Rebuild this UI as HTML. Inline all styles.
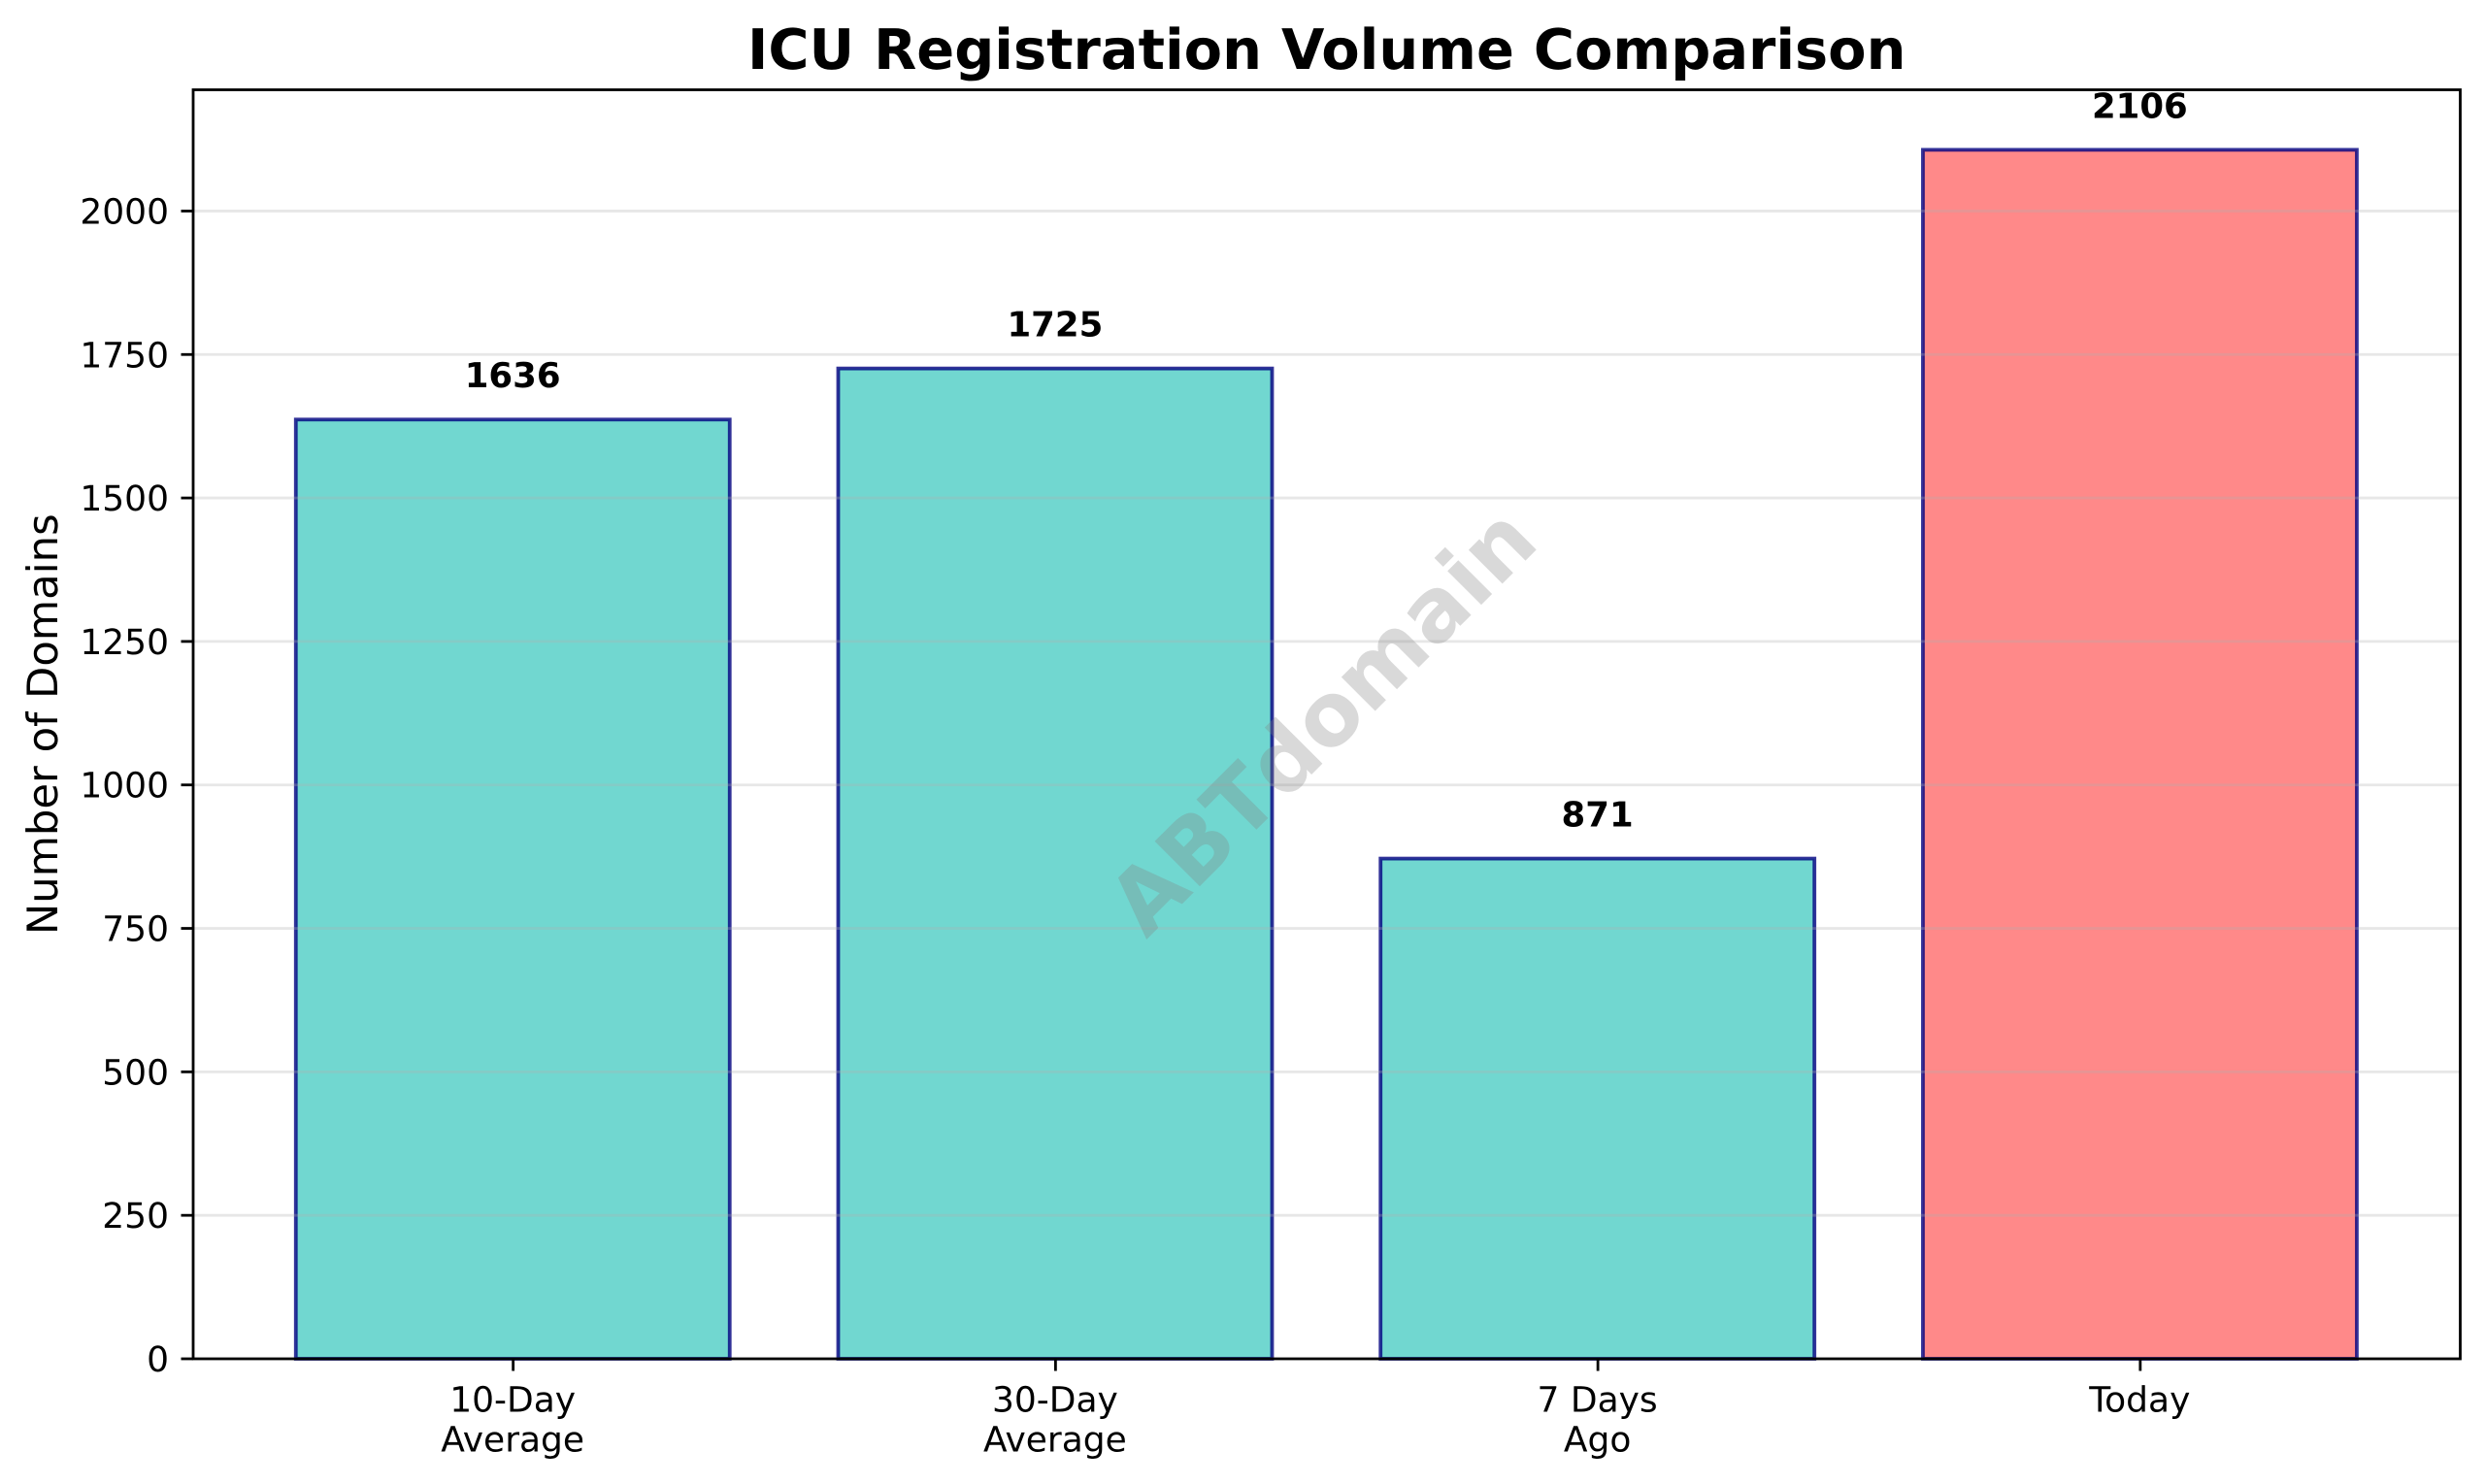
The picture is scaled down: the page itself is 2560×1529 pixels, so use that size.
<!DOCTYPE html>
<html lang="en">
<head>
<meta charset="utf-8">
<title>ICU Registration Volume Comparison</title>
<style>
html,body{margin:0;padding:0;background:#fff;width:2560px;height:1529px;overflow:hidden}
svg{display:block}
text{font-family:"DejaVu Sans","Liberation Sans",sans-serif;fill:#000;text-rendering:geometricPrecision}
</style>
</head>
<body>
<svg id="chart" xmlns="http://www.w3.org/2000/svg" width="2560" height="1529" viewBox="0 0 2560 1529"></svg>
<script>
const categories = [["10-Day", "Average"], ["30-Day", "Average"], ["7 Days", "Ago"], ["Today"]];
const values = [1636, 1725, 871, 2106];
const barColors = ["#4ECDC4", "#4ECDC4", "#4ECDC4", "#FF6B6B"];
const yTicks = [0, 250, 500, 750, 1000, 1250, 1500, 1750, 2000];

const NS = "http://www.w3.org/2000/svg";
const svg = document.getElementById("chart");
const plot = { left: 199, right: 2534.5, top: 92.5, bottom: 1400 };
const yMax = Math.max(...values) * 1.05;
const xMin = -0.59;
const xMax = categories.length - 1 + 0.59;
const barWidth = 0.8;

function xScale(v) {
  return plot.left + (v - xMin) / (xMax - xMin) * (plot.right - plot.left);
}
function yScale(v) {
  return plot.bottom - v / yMax * (plot.bottom - plot.top);
}
function make(tag, attrs, text) {
  const el = document.createElementNS(NS, tag);
  for (const k in attrs) el.setAttribute(k, attrs[k]);
  if (text !== undefined) el.textContent = text;
  svg.appendChild(el);
  return el;
}

// background
const bg = make("rect", { x: plot.left, y: plot.top, width: plot.right - plot.left, height: plot.bottom - plot.top, fill: "#fff" });



// bars
values.forEach(function (v, i) {
  const x0 = xScale(i - barWidth / 2);
  const x1 = xScale(i + barWidth / 2);
  const y0 = yScale(v);
  const y1 = yScale(0);
  const bar = make("rect", {
    x: x0 - 0.4, y: y0 - 0.4, width: x1 - x0, height: y1 - y0 + 0.4,
    fill: barColors[i], "fill-opacity": 0.8,
    stroke: "#000080", "stroke-opacity": 0.8, "stroke-width": 3.8
  });
  
  
});

// gridlines and y ticks
yTicks.forEach(function (t) {
  const y = yScale(t);
  const grid = make("line", { x1: plot.left, x2: plot.right, y1: y, y2: y, stroke: "#b0b0b0", "stroke-opacity": 0.3, "stroke-width": 2.8 });
  
  
  const tick = make("line", { x1: plot.left - 12.5, x2: plot.left, y1: y, y2: y, stroke: "#000", "stroke-width": 2.8 });
  
  
  const label = make("text", { x: plot.left - 25, y: y + 13, "font-size": 36, "text-anchor": "end" }, String(t));
  
  
});

// x ticks and labels
categories.forEach(function (lines, i) {
  const x = xScale(i);
  const tick = make("line", { x1: x, x2: x, y1: plot.bottom, y2: plot.bottom + 12.5, stroke: "#000", "stroke-width": 2.8 });
  
  
  lines.forEach(function (line, j) {
    const label = make("text", { x: x - 0.5, y: 1454.5 + j * 41, "font-size": 36, "text-anchor": "middle" }, line);
    
    
  });
});

// spines
const frame = make("rect", { x: plot.left, y: plot.top, width: plot.right - plot.left, height: plot.bottom - plot.top, fill: "none", stroke: "#000", "stroke-width": 2.8 });



// value labels
values.forEach(function (v, i) {
  const label = make("text", { x: xScale(i) - 0.5, y: yScale(v) - 33.5, "font-size": 35.5, "font-weight": "bold", "text-anchor": "middle" }, String(v));
  
  
});

// title
const title = make("text", { x: (plot.left + plot.right) / 2, y: 71, "font-size": 57.4, "font-weight": "bold", "text-anchor": "middle" }, "ICU Registration Volume Comparison");



// y axis title
const yTitle = make("text", { x: 0, y: 0, "font-size": 43.3, "text-anchor": "middle", transform: "translate(59 " + ((plot.top + plot.bottom) / 2) + ") rotate(-90)" }, "Number of Domains");



// watermark
const mark = make("text", { x: 0, y: 0, "font-size": 90, "font-weight": "bold", "text-anchor": "middle", "dominant-baseline": "central", style: "fill:#808080;fill-opacity:0.3", transform: "translate(" + ((plot.left + plot.right) / 2 - 4) + " " + ((plot.top + plot.bottom) / 2 - 3) + ") rotate(-45)" }, "ABTdomain");


</script>
</body>
</html>
